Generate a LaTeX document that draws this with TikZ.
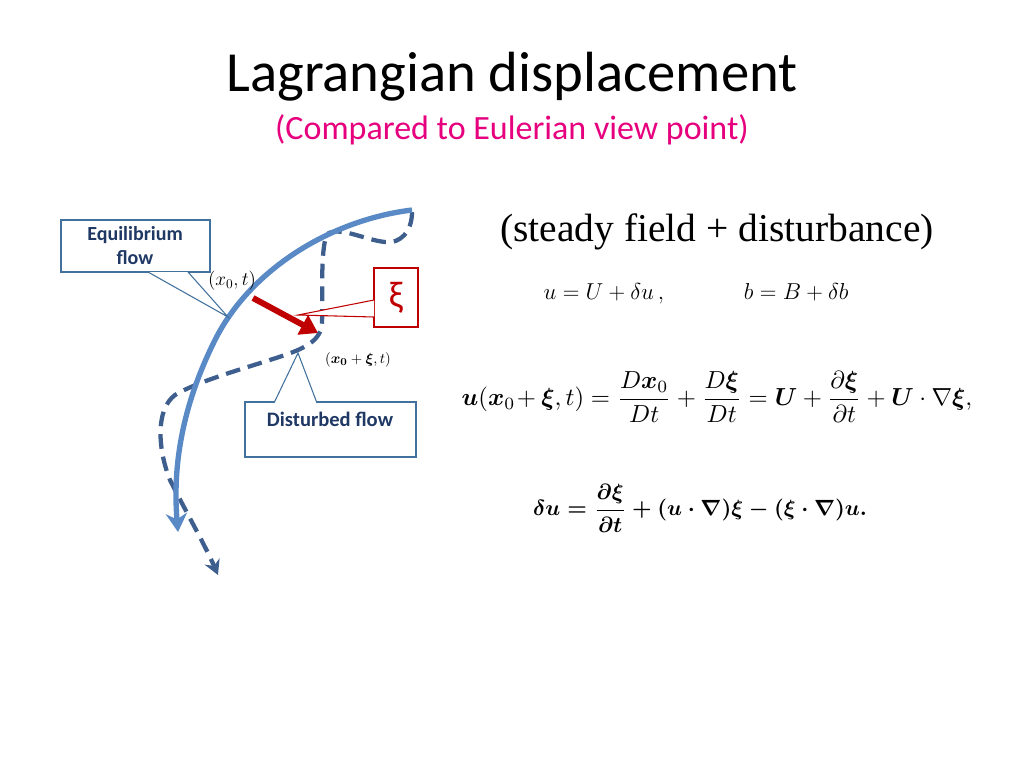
\documentclass[tikz,border=0pt]{standalone}
\usepackage{amsmath,bm}
\usepackage{fontspec}
\setmainfont{Carlito}
\newfontfamily\serifm{Liberation Serif}
\usetikzlibrary{arrows.meta}
\definecolor{solidc}{HTML}{5A8AC6}
\definecolor{dashc}{HTML}{3E5F8E}
\definecolor{boxc}{HTML}{41719C}
\definecolor{boxt}{HTML}{1F3864}
\definecolor{redc}{HTML}{C00000}
\definecolor{pinkc}{HTML}{E6007E}
\newcommand{\eqthree}{\mbox{\boldmath$\delta\bm{u}=\dfrac{\partial\bm{\xi}}{\partial t}+(\bm{u}\cdot\nabla)\bm{\xi}-(\bm{\xi}\cdot\nabla)\bm{u}.$}}
\begin{document}
\begin{tikzpicture}[x=0.75pt,y=-0.75pt,
  callout/.style={draw=boxc,line width=0.8pt,fill=white},
  lbl/.style={inner sep=0pt}]
\useasboundingbox (0,0) rectangle (1024,768);
% title
\node[lbl] (title) at (512,77) {\fontsize{42.5}{46}\selectfont Lagrangian displacement};
\node[lbl,text=pinkc] (sub) at (512,130) {\fontsize{25.5}{28}\selectfont (Compared to Eulerian view point)};
% curves
\draw[dashc,line width=3.2pt,dash pattern=on 11pt off 6pt,-{Stealth[length=11pt,width=12pt]}]
 (412,212) .. controls (412,232) and (400,244) .. (385,242)
 .. controls (365,240) and (340,226) .. (327,234)
 .. controls (320,250) and (323,300) .. (322,322)
 .. controls (322,340) and (305,348) .. (285,355)
 .. controls (250,367) and (200,380) .. (175,395)
 .. controls (155,410) and (158,450) .. (170,480)
 .. controls (185,510) and (205,545) .. (218,575);
\draw[solidc,line width=4pt,-{Stealth[length=14pt,width=16pt]}]
 (412,210) .. controls (330,220) and (250,270) .. (215,340)
 .. controls (185,400) and (172,460) .. (178,532);
\draw[redc,line width=4.5pt,-{Triangle[length=13pt,width=16pt]}] (253,298) -- (318,333);
% callouts
\draw[callout] (61,220) rectangle (210,272);
\draw[boxc,line width=0.8pt,fill=white] (148,272) -- (228,317) -- (188,272);
\node[lbl,text=boxt,align=center,font=\bfseries\fontsize{15}{18}\selectfont] (eq) at (135,246) {Equilibrium\\flow};
\draw[redc,line width=0.8pt] (374,268) rectangle (418,327);
\draw[redc,line width=0.8pt,fill=white] (374,300) -- (298,315) -- (374,317);
\node[lbl,text=redc,font=\fontsize{28}{30}\selectfont] (xi) at (396,298) {ξ};
\draw[callout] (245,402) rectangle (416,457);
\draw[boxc,line width=0.8pt,fill=white] (274,403) -- (298,353) -- (317,403);
\node[lbl,text=boxt,font=\bfseries\fontsize{15.4}{18}\selectfont] (dis) at (330,419) {Disturbed flow};
\node[lbl,font=\fontsize{14}{16}\selectfont] (p1) at (232,281) {$(x_0,t)$};
\node[lbl,font=\fontsize{11}{13}\selectfont] (p2) at (358,360) {$(\bm{x_0}+\bm{\xi},t)$};
% right
\node[lbl,font=\serifm\fontsize{29.6}{33}\selectfont] (sf) at (717,232) {(steady field + disturbance)};
\node[lbl,font=\fontsize{19}{22}\selectfont] (e1) at (696,294) {$u=U+\delta u\,,\qquad\quad b=B+\delta b$};
\node[lbl,scale=1.85] (e2) at (717,397) {$\bm{u}(\bm{x}_0\!+\bm{\xi},t)=\dfrac{D\bm{x}_0}{Dt}+\dfrac{D\bm{\xi}}{Dt}=\bm{U}+\dfrac{\partial\bm{\xi}}{\partial t}+\bm{U}\cdot\nabla\bm{\xi},$};
\node[lbl,scale=1.65] (e3) at (700,508) {\eqthree};
\end{tikzpicture}
\end{document}
